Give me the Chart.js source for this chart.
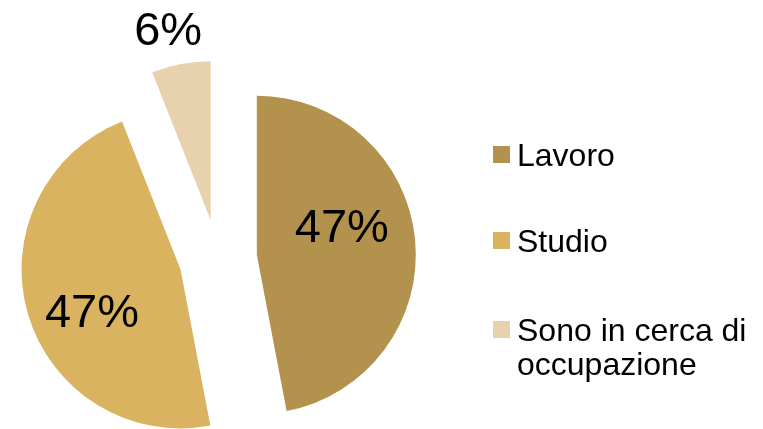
<!DOCTYPE html>
<html>
<head>
<meta charset="utf-8">
<script src="https://cdn.jsdelivr.net/npm/chart.js@4"></script>
<style>
  html, body { margin: 0; padding: 0; background: #fff; }
  #wrap { position: relative; width: 763px; height: 429px; }
  #legenda { position: absolute; left: 0; top: 0; font-family: "Liberation Sans", Arial, sans-serif; font-size: 32px; line-height: 34px; color: #000; }
  .voce { position: absolute; left: 493px; width: 265px; }
  .quadrato { position: absolute; left: 0; width: 17px; height: 17px; }
  .testo { position: absolute; left: 24px; top: 0; width: 242px; }
</style>
</head>
<body>
<div id="wrap">
  <canvas id="grafikTorta" width="763" height="429"></canvas>
  <div id="legenda"></div>
</div>
<script>
// Dati del grafico
const categorie = ['Lavoro', 'Studio', 'Sono in cerca di occupazione'];
const valori = [47, 47, 6];
const colori = ['#B3924E', '#D9B35F', '#E8D2AD'];

// Spostamento delle fette (esplose) e posizione delle etichette
const distacco = 39;
const posEtichette = [
    { r: 0.565, rot: -0.237 },
    { r: 0.613, rot: -0.147 },
    { r: 1.235, rot: -0.03 }
];

const fetteEsplose = {
    id: 'fetteEsplose',
    beforeDatasetDraw(chart, args) {
        const ctx = chart.ctx;
        const meta = chart.getDatasetMeta(args.index);
        meta.data.forEach(arc => {
            const mid = (arc.startAngle + arc.endAngle) / 2;
            ctx.save();
            ctx.translate(Math.cos(mid) * distacco, Math.sin(mid) * distacco);
            arc.draw(ctx);
            ctx.restore();
        });
        return false;
    },
    afterDatasetsDraw(chart) {
        const ctx = chart.ctx;
        const meta = chart.getDatasetMeta(0);
        const totale = valori.reduce((a, b) => a + b, 0);
        const size = 47;
        ctx.save();
        ctx.font = size + 'px "Liberation Sans", Arial, sans-serif';
        ctx.fillStyle = '#000';
        ctx.textAlign = 'center';
        ctx.textBaseline = 'alphabetic';
        meta.data.forEach((arc, i) => {
            const mid = (arc.startAngle + arc.endAngle) / 2;
            const cx = arc.x + Math.cos(mid) * distacco;
            const cy = arc.y + Math.sin(mid) * distacco;
            const p = posEtichette[i];
            const ang = mid + p.rot;
            const x = cx + Math.cos(ang) * arc.outerRadius * p.r;
            const y = cy + Math.sin(ang) * arc.outerRadius * p.r;
            const pct = Math.round(valori[i] / totale * 100) + '%';
            ctx.fillText(pct, x, y + size * 0.358);
        });
        ctx.restore();
    }
};

const ctx = document.getElementById('grafikTorta').getContext('2d');
new Chart(ctx, {
    type: 'pie',
    data: {
        labels: categorie,
        datasets: [{
            data: valori,
            backgroundColor: colori,
            borderWidth: 0
        }]
    },
    options: {
        responsive: false,
        animation: false,
        radius: 159,
        layout: {
            padding: { left: 0, right: 327, top: 88, bottom: 0 }
        },
        plugins: {
            legend: { display: false },
            tooltip: { enabled: false }
        }
    },
    plugins: [fetteEsplose]
});

// Legenda HTML
const legenda = document.getElementById('legenda');
const topVoci = [138, 224, 313];
categorie.forEach((nome, i) => {
    const voce = document.createElement('div');
    voce.className = 'voce';
    voce.style.top = topVoci[i] + 'px';
    const q = document.createElement('div');
    q.className = 'quadrato';
    q.style.background = colori[i];
    q.style.top = '8px';
    const t = document.createElement('div');
    t.className = 'testo';
    t.textContent = nome;
    voce.appendChild(q);
    voce.appendChild(t);
    legenda.appendChild(voce);
});
</script>
</body>
</html>
